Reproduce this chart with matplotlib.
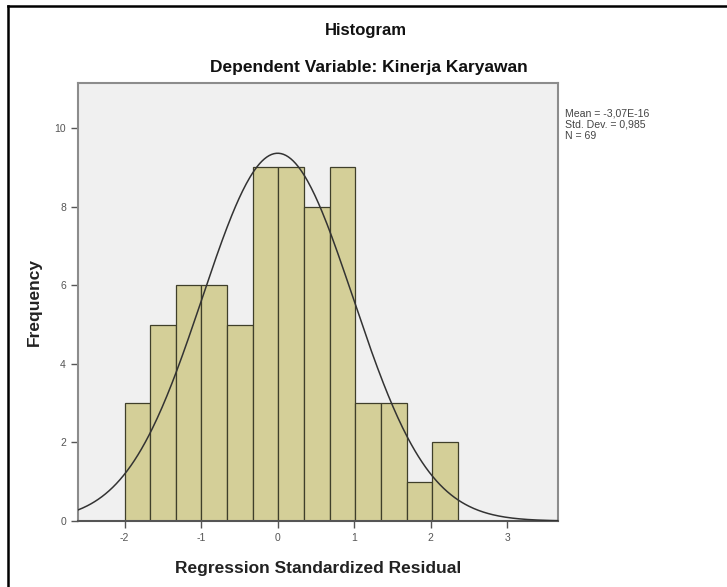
import numpy as np
import matplotlib
matplotlib.use("Agg")
import matplotlib.pyplot as plt
from matplotlib.lines import Line2D

plt.rcParams["font.family"] = ["Liberation Sans", "DejaVu Sans"]
plt.rcParams["axes.unicode_minus"] = False

# Histogram data (read from the SPSS output)
bin_start = -2.0
bin_width = 0.335
counts = [3, 5, 6, 6, 5, 9, 9, 8, 9, 3, 3, 1, 2]
mean_val = 0.0
std_val = 0.985
n_obs = 69
x_ticks = [-2, -1, 0, 1, 2, 3]
y_ticks = [0, 2, 4, 6, 8, 10]

edges = bin_start + bin_width * np.arange(len(counts) + 1)

fig = plt.figure(figsize=(7.27, 5.87), dpi=100)
ax = fig.add_axes([0.107, 0.1124, 0.6605, 0.7462])
ax.set_facecolor("#F0F0F0")

ax.bar(edges[:-1], counts, width=bin_width, align="edge",
       color="#D4CF98", edgecolor="#3F3F2A", linewidth=0.9, zorder=2)

# Normal curve
xs = np.linspace(-2.61, 3.66, 400)
ys = n_obs * bin_width / (std_val * np.sqrt(2 * np.pi)) * np.exp(-0.5 * ((xs - mean_val) / std_val) ** 2)
ax.plot(xs, ys, color="#333333", linewidth=1.1, zorder=3)

ax.set_xlim(-2.61, 3.66)
ax.set_ylim(0, 11.15)
ax.set_xticks(x_ticks)
ax.set_yticks(y_ticks)
ax.tick_params(axis="both", labelsize=7.5, colors="#555555", length=5, width=1, direction="out")

for side in ["left", "right", "top", "bottom"]:
    ax.spines[side].set_color("#8C8C8C")
    ax.spines[side].set_linewidth(1.5)
ax.spines["bottom"].set_color("#555555")

ax.set_xlabel("Regression Standardized Residual", fontsize=12.5, fontweight="bold",
              color="#222222", labelpad=13)
ax.set_ylabel("Frequency", fontsize=12.5, fontweight="bold", color="#222222", labelpad=9)

fig.text(0.503, 0.948, "Histogram", ha="center", va="center", fontsize=12,
         fontweight="bold", color="#111111")
fig.text(0.508, 0.885, "Dependent Variable: Kinerja Karyawan", ha="center", va="center",
         fontsize=12.5, fontweight="bold", color="#111111")

fig.text(0.777, 0.815, "Mean = -3,07E-16\nStd. Dev. = 0,985\nN = 69", ha="left", va="top",
         fontsize=7.6, color="#444444", linespacing=1.15)

# Outer frame (only top and left edges visible)
fig.add_artist(Line2D([0.011, 1.0], [0.99, 0.99], transform=fig.transFigure,
                      color="black", linewidth=1.8))
fig.add_artist(Line2D([0.011, 0.011], [0.0, 0.99], transform=fig.transFigure,
                      color="black", linewidth=1.8))

fig.savefig("out.png", dpi=100, facecolor="white")
